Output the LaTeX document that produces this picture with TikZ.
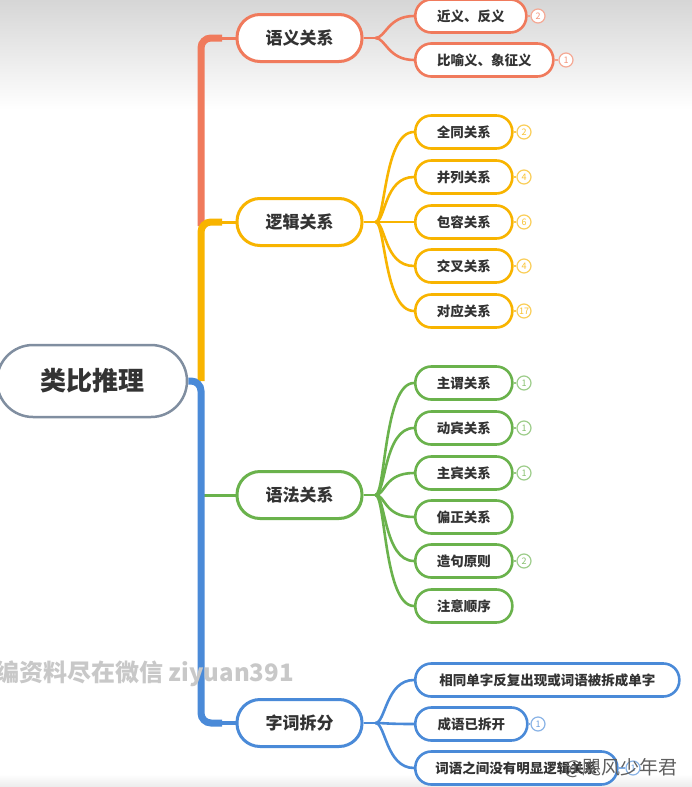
\documentclass[tikz,border=0pt]{standalone}
\usepackage{fontspec}
\setmainfont{Noto Sans CJK SC}
\usetikzlibrary{backgrounds}
\pgfdeclarelayer{bg}
\pgfsetlayers{bg,background,main}
\definecolor{cR}{RGB}{240,122,92}
\definecolor{cY}{RGB}{248,180,0}
\definecolor{cGr}{RGB}{106,178,76}
\definecolor{cB}{RGB}{74,138,216}
\definecolor{cRoot}{RGB}{128,142,160}
\definecolor{txt}{RGB}{51,51,51}
\tikzset{
  rootbox/.style={draw=cRoot, line width=2.5pt, fill=white, minimum width=190pt, minimum height=72pt,
    rounded corners=36pt, inner sep=0pt, text=txt, font=\bfseries\fontsize{26}{28}\selectfont},
  lone/.style={draw=#1, line width=3pt, fill=white, minimum width=125pt, minimum height=47pt,
    rounded corners=23pt, inner sep=0pt, text=txt, font=\bfseries\fontsize{17}{19}\selectfont},
  ltwo/.style={draw=#1, line width=2.6pt, fill=white, minimum height=33pt, minimum width=97pt,
    rounded corners=16pt, inner sep=0pt, anchor=west, text=txt, font=\bfseries\fontsize{13.5}{15}\selectfont},
  cnt/.style={circle, draw=#1!65, line width=1.2pt, fill=white, minimum size=14pt, inner sep=0pt,
    text=#1!80, font=\fontsize{9}{9}\selectfont},
  conn/.style={line width=2.6pt},
  cntline/.style={draw=#1!70, line width=1.2pt},
  trunk/.style={line width=7pt, rounded corners=10pt},
}
\begin{document}
\begin{tikzpicture}[x=1pt,y=-1pt]
\useasboundingbox (0,0) rectangle (692,787);
\begin{pgfonlayer}{bg}
  \fill[white] (0,0) rectangle (692,787);
  \shade[top color={rgb,255:red,214;green,214;blue,214}, bottom color=white] (0,0) rectangle (692,110);
  \shade[top color=white, bottom color={rgb,255:red,236;green,236;blue,236}] (0,774) rectangle (692,787);
\end{pgfonlayer}

% nodes
\node[rootbox] (root) at (92,381) {类比推理};
\node[lone=cR] (yuyi) at (299.5,38) {语义关系};
\node[lone=cY] (luoji) at (299.5,222) {逻辑关系};
\node[lone=cGr] (yufa) at (299.5,495) {语法关系};
\node[lone=cB] (zici) at (299.5,723) {字词拆分};

\node[ltwo=cR, minimum width=111pt] (r1) at (414,16) {近义、反义};
\node[ltwo=cR, minimum width=138pt] (r2) at (414,60) {比喻义、象征义};
\node[cnt=cR] (nr1) at (538,16) {2};
\node[cnt=cR] (nr2) at (566,60) {1};

\node[ltwo=cY] (y1) at (414,132) {全同关系};
\node[ltwo=cY] (y2) at (414,177) {并列关系};
\node[ltwo=cY] (y3) at (414,222) {包容关系};
\node[ltwo=cY] (y4) at (414,266) {交叉关系};
\node[ltwo=cY] (y5) at (414,311) {对应关系};
\node[cnt=cY] (ny1) at (524,132) {2};
\node[cnt=cY] (ny2) at (524,177) {4};
\node[cnt=cY] (ny3) at (524,222) {6};
\node[cnt=cY] (ny4) at (524,266) {4};
\node[cnt=cY] (ny5) at (524,311) {17};

\node[ltwo=cGr] (g1) at (414,383) {主谓关系};
\node[ltwo=cGr] (g2) at (414,428) {动宾关系};
\node[ltwo=cGr] (g3) at (414,473) {主宾关系};
\node[ltwo=cGr] (g4) at (414,517) {偏正关系};
\node[ltwo=cGr] (g5) at (414,561) {造句原则};
\node[ltwo=cGr] (g6) at (414,606) {注意顺序};
\node[cnt=cGr] (ng1) at (524,383) {1};
\node[cnt=cGr] (ng2) at (524,428) {1};
\node[cnt=cGr] (ng3) at (524,473) {1};
\node[cnt=cGr] (ng5) at (524,561) {2};

\node[ltwo=cB, minimum width=264pt] (b1) at (414,680) {相同单字反复出现或词语被拆成单字};
\node[ltwo=cB, minimum width=112pt] (b2) at (414,724) {成语已拆开};
\node[ltwo=cB, minimum width=202pt] (b3) at (414,768) {词语之间没有明显逻辑关系};
\node[cnt=cB] (nb2) at (538,724) {1};
\node[cnt=cB] (nb3) at (633,768) {1};

% watermarks
\node[anchor=east, text={rgb,255:red,200;green,200;blue,200}, font=\bfseries\fontsize{24}{26}\selectfont, inner sep=0pt] (wm1) at (294,674) {编资料尽在微信 ziyuan391};
\node[anchor=east, text={rgb,255:red,95;green,95;blue,95}, font=\fontsize{19}{21}\selectfont, inner sep=0pt] (wm2) at (678,768) {@飓风少年君};

% connectors
\begin{scope}[on background layer]
  % trunk
  \draw[cR, trunk] (201,226) -- (201,38) -- (222,38);
  \draw[cR, line width=3pt] (214,38) -- (yuyi.west);
  \draw[cY, trunk] (201,381) -- (201,222) -- (222,222);
  \draw[cY, line width=3pt] (214,222) -- (luoji.west);
  \draw[cGr, line width=3pt] (201,495) -- (yufa.west);
  \draw[cB, trunk] (root.east) -- (201,381) -- (201,723) -- (222,723);
  \draw[cB, line width=3.5pt] (214,723) -- (zici.west);

  % red branch
  \draw[cR, conn] (yuyi.east) -- ++(12,0) coordinate (fR);
  \foreach \c in {r1,r2} \draw[cR, conn] (fR) .. controls +(10,0) and +(-26,0) .. (\c.west);
  \draw[cntline=cR] (r1.east) -- (nr1);
  \draw[cntline=cR] (r2.east) -- (nr2);

  % yellow branch
  \draw[cY, conn] (luoji.east) -- ++(12,0) coordinate (fY);
  \foreach \c in {y1,y2,y3,y4,y5} \draw[cY, conn] (fY) .. controls +(10,0) and +(-30,0) .. (\c.west);
  \foreach \a/\b in {y1/ny1,y2/ny2,y3/ny3,y4/ny4,y5/ny5} \draw[cntline=cY] (\a.east) -- (\b);

  % green branch
  \draw[cGr, conn] (yufa.east) -- ++(12,0) coordinate (fG);
  \foreach \c in {g1,g2,g3,g4,g5,g6} \draw[cGr, conn] (fG) .. controls +(10,0) and +(-30,0) .. (\c.west);
  \foreach \a/\b in {g1/ng1,g2/ng2,g3/ng3,g5/ng5} \draw[cntline=cGr] (\a.east) -- (\b);

  % blue branch
  \draw[cB, conn] (zici.east) -- ++(12,0) coordinate (fB);
  \foreach \c in {b1,b2,b3} \draw[cB, conn] (fB) .. controls +(10,0) and +(-28,0) .. (\c.west);
  \draw[cntline=cB] (b2.east) -- (nb2);
  \draw[cntline=cB] (b3.east) -- (nb3);
\end{scope}
\end{tikzpicture}
\end{document}
